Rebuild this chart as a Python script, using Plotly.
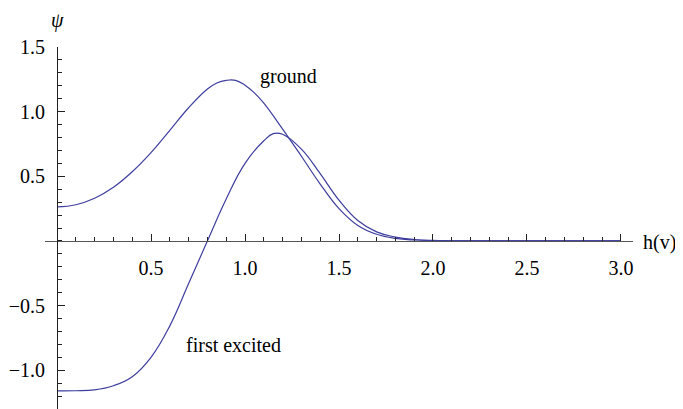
import plotly.graph_objects as go

# values
x_ground = [0.0, 0.1, 0.2, 0.3, 0.4, 0.5, 0.6, 0.7, 0.8, 0.85, 0.9, 0.95, 1.0, 1.05, 1.1,
            1.2, 1.3, 1.4, 1.5, 1.6, 1.7, 1.8, 1.9, 2.0, 2.2, 2.5, 3.0]
y_ground = [0.263, 0.28, 0.33, 0.415, 0.535, 0.683, 0.855, 1.03, 1.175, 1.222, 1.242, 1.242,
            1.205, 1.145, 1.065, 0.865, 0.655, 0.44, 0.25, 0.12, 0.052, 0.02, 0.007,
            0.002, 0.0003, 0.0, 0.0]

x_excited = [0.0, 0.1, 0.2, 0.3, 0.4, 0.5, 0.6, 0.7, 0.8, 0.9, 1.0, 1.1, 1.15, 1.2,
             1.3, 1.4, 1.5, 1.6, 1.7, 1.8, 1.9, 2.0, 2.2, 2.5, 3.0]
y_excited = [-1.16, -1.159, -1.152, -1.12, -1.05, -0.90, -0.657, -0.33, 0.0, 0.325,
             0.60, 0.775, 0.83, 0.825, 0.71, 0.52, 0.315, 0.158, 0.07, 0.03, 0.011,
             0.004, 0.0005, 0.0, 0.0]

x_ticks = [0.5, 1.0, 1.5, 2.0, 2.5, 3.0]
y_ticks = [-1.0, -0.5, 0.5, 1.0, 1.5]

x_range = [-0.064, 3.064]
y_range = [-1.30, 1.5]

line_color = '#3d3d9e'
font_family = 'Liberation Serif, Times New Roman, serif'

fig = go.Figure()
fig = fig.add_trace(go.Scatter(x=x_ground, y=y_ground, mode='lines',
                               line=dict(color=line_color, width=1.2, shape='spline', smoothing=1.2)))
fig = fig.add_trace(go.Scatter(x=x_excited, y=y_excited, mode='lines',
                               line=dict(color=line_color, width=1.2, shape='spline', smoothing=1.2)))

fig = fig.update_xaxes(range=x_range, anchor='free', automargin=False,
                       position=(0 - y_range[0]) / (y_range[1] - y_range[0]),
                       showline=True, linecolor='#555555', linewidth=1,
                       showgrid=False, zeroline=False,
                       tickmode='array', tickvals=x_ticks, ticktext=['%.1f' % v for v in x_ticks],
                       ticks='inside', ticklen=7, tickcolor='#222222', tickwidth=1,
                       ticklabelstandoff=9,
                       minor=dict(ticks='inside', ticklen=4, tick0=0, dtick=0.1,
                                  tickcolor='#222222', tickwidth=1, showgrid=False),
                       tickfont=dict(family=font_family, size=20, color='black'))
fig = fig.update_yaxes(range=y_range, anchor='free', automargin=False,
                       position=(0 - x_range[0]) / (x_range[1] - x_range[0]),
                       showline=True, linecolor='#222222', linewidth=1,
                       showgrid=False, zeroline=False,
                       tickmode='array', tickvals=y_ticks,
                       ticktext=[('\u2212%.1f' % -v) if v < 0 else '%.1f' % v for v in y_ticks],
                       ticks='inside', ticklen=7, tickcolor='#222222', tickwidth=1,
                       ticklabelstandoff=8,
                       minor=dict(ticks='inside', ticklen=4, tick0=0, dtick=0.1,
                                  tickcolor='#222222', tickwidth=1, showgrid=False),
                       tickfont=dict(family=font_family, size=20, color='black'))

# page body adds an 8px offset, so margins are shifted to compensate
fig = fig.update_layout(
    width=683, height=409,
    showlegend=False,
    template='simple_white',
    paper_bgcolor='white',
    plot_bgcolor='white',
    margin=dict(l=37, r=58, t=39, b=8),
    annotations=[
        dict(text='<i>\u03c8</i>', xref='x', x=0, yref='paper', y=1, yshift=27,
             xanchor='center', yanchor='middle',
             showarrow=False, font=dict(family=font_family, size=20, color='black')),
        dict(text='h(v)', xref='paper', x=1.0136, yref='y', y=0.0, yshift=-2,
             xanchor='left', yanchor='middle',
             showarrow=False, font=dict(family=font_family, size=20, color='black')),
        dict(text='ground', xref='x', x=1.229, yref='y', y=1.274,
             xanchor='center', yanchor='middle',
             showarrow=False, font=dict(family=font_family, size=20, color='black')),
        dict(text='first excited', xref='x', x=0.941, yref='y', y=-0.806,
             xanchor='center', yanchor='middle',
             showarrow=False, font=dict(family=font_family, size=20, color='black')),
    ]
)

fig.write_html("out.html")
